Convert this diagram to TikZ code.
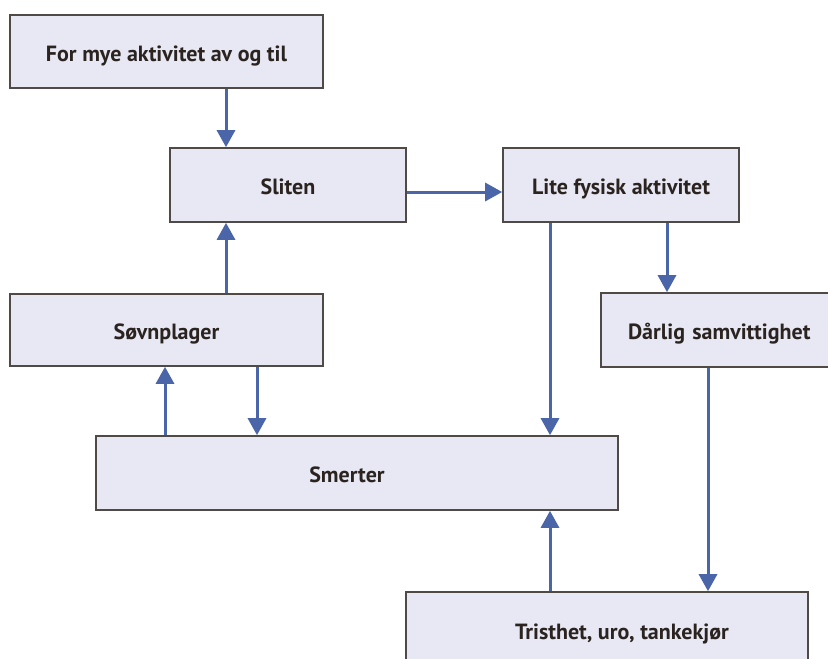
\documentclass[tikz,border=0pt]{standalone}
\usepackage{fontspec}
\setmainfont{PT Sans}
\usetikzlibrary{arrows.meta}
\definecolor{boxfill}{HTML}{E8E8F4}
\definecolor{boxline}{HTML}{4F4A46}
\definecolor{arrowblue}{HTML}{4B65A9}
\definecolor{txt}{HTML}{2A231F}
\tikzset{
  box/.style={draw=boxline, fill=boxfill, line width=1.6pt, inner sep=0pt, text=txt,
    text height=19pt, text depth=0pt,
    font=\fontsize{22}{26}\selectfont\bfseries},
  flow/.style={draw=arrowblue, line width=3pt, -{Triangle[length=17pt,width=18pt]}}
}
\begin{document}
\begin{tikzpicture}[x=1pt,y=-1pt]
\useasboundingbox (0,0) rectangle (828,659);
\clip (0,0) rectangle (828,659);
\fill[white] (0,0) rectangle (828,659);
\node[box, minimum width=313pt, minimum height=73pt] (b1) at (166.5,51.5) {For mye aktivitet av og til};
\node[box, minimum width=236pt, minimum height=74pt] (sl) at (288,185) {Sliten};
\node[box, minimum width=236pt, minimum height=74pt] (lf) at (621,185) {Lite fysisk aktivitet};
\node[box, minimum width=313pt, minimum height=72pt] (sv) at (166.5,330) {Søvnplager};
\node[box, minimum width=240pt, minimum height=74pt, text width=240pt, align=left] (ds) at (721,330) {\hspace{27pt}Dårlig samvittighet};
\node[box, minimum width=522pt, minimum height=74pt] (sm) at (357,473) {\hspace{-20pt}Smerter};
\node[box, minimum width=402pt, minimum height=76pt] (tr) at (607,630) {\hspace{30pt}Tristhet, uro, tankekjør};
% arrows
\draw[flow] (b1.south -| 226,0) -- (sl.north -| 226,0);
\draw[flow] (sl.east |- 0,192) -- (lf.west |- 0,192);
\draw[flow] (sv.north -| 226,0) -- (sl.south -| 226,0);
\draw[flow] (lf.south -| 667,0) -- (ds.north -| 667,0);
\draw[flow] (lf.south -| 550,0) -- (sm.north -| 550,0);
\draw[flow] (sv.south -| 257,0) -- (sm.north -| 257,0);
\draw[flow] (sm.north -| 165,0) -- (sv.south -| 165,0);
\draw[flow] (ds.south -| 708,0) -- (tr.north -| 708,0);
\draw[flow] (tr.north -| 550,0) -- (sm.south -| 550,0);
\end{tikzpicture}
\end{document}
